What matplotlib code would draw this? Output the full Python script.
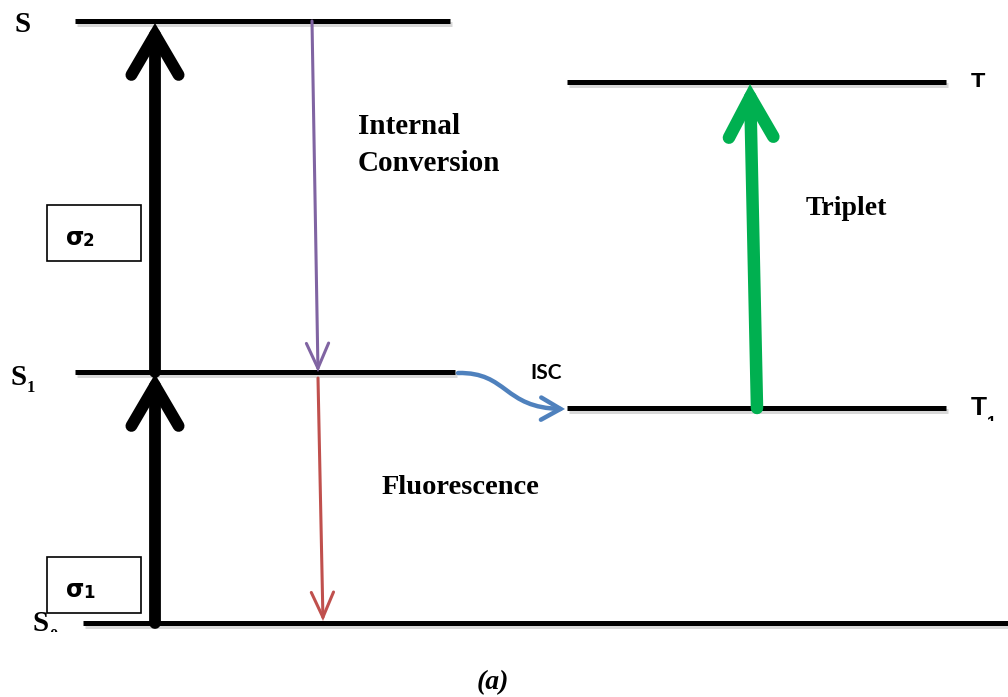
import matplotlib
matplotlib.use("Agg")
import matplotlib.pyplot as plt
import matplotlib.patheffects as pe
from matplotlib.patches import FancyArrowPatch, Rectangle, ArrowStyle
from matplotlib.path import Path

# --- energy levels (pixel frame of the original sketch, y grows downwards) ---
level_names = ["S", "S1", "S0", "T", "T1"]
level_y = [21, 372, 623, 82, 408]
level_x0 = [75, 75, 83, 567, 567]
level_x1 = [450, 455, 1008, 946, 946]
lev = {n: (y, a, b) for n, y, a, b in zip(level_names, level_y, level_x0, level_x1)}

# transitions: x at start / end of each arrow
pump_x = 155
ic_x = (312, 318)
fl_x = (318, 323)
trip_x = (757, 750)

box_labels = ["2", "1"]
box_tops = [205, 557]

serif = "Liberation Serif"
sans = "Liberation Sans"

fig = plt.figure(figsize=(10.08, 6.97), dpi=100)
ax = fig.add_axes([0, 0, 1, 1])
ax.set_xlim(0, 1008)
ax.set_ylim(697, 0)
ax.axis("off")

shadow = [pe.SimpleLineShadow(offset=(1.5, -2.5), shadow_color="gray", alpha=0.3), pe.Normal()]

# level lines
for n in level_names:
    y, a, b = lev[n]
    ax.plot([a, b], [y, y], color="black", lw=3.6, solid_capstyle="butt",
            path_effects=shadow, zorder=2)


def arrow(p0, p1, color, lw, hl, hw, z=3):
    a = FancyArrowPatch(p0, p1, arrowstyle=ArrowStyle("->", head_length=hl, head_width=hw),
                        mutation_scale=1, color=color, lw=lw, shrinkA=0, shrinkB=0,
                        capstyle="round", joinstyle="miter", zorder=z)
    ax.add_patch(a)
    return a


# two-photon pumping (black)
arrow((pump_x, lev["S0"][0]), (pump_x, lev["S1"][0] + 2), "black", 8.5, 29, 17)
arrow((pump_x, lev["S1"][0]), (pump_x, lev["S"][0] + 2), "black", 8.5, 29, 17)

# internal conversion (purple) and fluorescence (red)
arrow((ic_x[0], lev["S"][0]), (ic_x[1], lev["S1"][0]), "#8064A2", 2.2, 18, 8)
arrow((fl_x[0], lev["S1"][0] + 6), (fl_x[1], lev["S0"][0] - 2), "#C0504D", 2.2, 18, 8)

# triplet absorption (green)
arrow((trip_x[0], lev["T1"][0]), (trip_x[1], lev["T"][0] + 2), "#00B050", 9, 29, 16)

# intersystem crossing (curved, blue)
s1y, t1y = lev["S1"][0], lev["T1"][0]
isc_path = Path([(458, s1y + 1), (508, s1y), (503, t1y), (565, t1y + 1)],
                [Path.MOVETO, Path.CURVE4, Path.CURVE4, Path.CURVE4])
ax.add_patch(FancyArrowPatch(path=isc_path, arrowstyle=ArrowStyle("->", head_length=14, head_width=8),
                             mutation_scale=1, color="#4F81BD", lw=3.2, capstyle="round",
                             joinstyle="miter", zorder=3))

# sigma boxes
for lab, top in zip(box_labels, box_tops):
    ax.add_patch(Rectangle((47, top), 94, 56, fill=False, ec="black", lw=1.2, zorder=2))
    ax.text(66, top + 40, "σ", fontsize=17, fontweight="bold", family="DejaVu Sans",
            ha="left", va="baseline", zorder=4)
    ax.text(83, top + 41, lab, fontsize=12, fontweight="bold", family="DejaVu Sans",
            ha="left", va="baseline", zorder=4)

# level labels
ax.text(14, 32, "S", fontsize=21, fontweight="bold", family=serif, ha="left", va="baseline")
ax.text(10, 385, "S", fontsize=21, fontweight="bold", family=serif, ha="left", va="baseline")
ax.text(27, 392, "1", fontsize=12, fontweight="bold", family=serif, ha="left", va="baseline")

ax.text(32, 631, "S", fontsize=21, fontweight="bold", family=serif, ha="left", va="baseline")
ax.text(49, 640, "0", fontsize=12, fontweight="bold", family=serif, ha="left", va="baseline")
ax.add_patch(Rectangle((0, 632), 83, 20, fc="white", ec="none", zorder=5))

# top T label is cut off at its foot in the original
ax.text(971, 90, "T", fontsize=17, fontweight="bold", family=sans, ha="left", va="baseline")
ax.add_patch(Rectangle((955, 87), 53, 30, fc="white", ec="none", zorder=5))

ax.text(971, 415, "T", fontsize=19, fontweight="bold", family=sans, ha="left", va="baseline")
ax.text(987, 428, "1", fontsize=12, fontweight="bold", family=sans, ha="left", va="baseline")
ax.add_patch(Rectangle((955, 421), 53, 20, fc="white", ec="none", zorder=5))

# process labels
ax.text(358, 134, "Internal", fontsize=21, fontweight="bold", family=serif, ha="left", va="baseline")
ax.text(358, 171, "Conversion", fontsize=21, fontweight="bold", family=serif, ha="left", va="baseline")
ax.text(806, 215, "Triplet", fontsize=20, fontweight="bold", family=serif, ha="left", va="baseline")
ax.text(382, 494, "Fluorescence", fontsize=20.5, fontweight="bold", family=serif, ha="left", va="baseline")
ax.text(530, 379, "ISC", fontsize=15, fontweight="bold", family="Lato", ha="left", va="baseline")

ax.text(493, 683, "(a)", fontsize=20, fontweight="bold", style="italic", family=serif,
        ha="center", va="center")

fig.savefig("out.png", dpi=100)
